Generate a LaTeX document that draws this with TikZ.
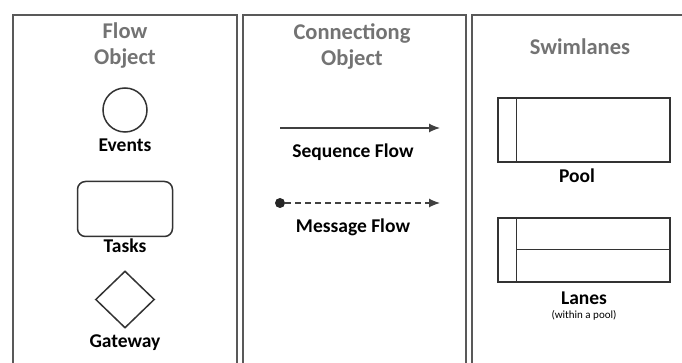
\documentclass[tikz,border=0pt]{standalone}
\usepackage{fontspec}
\setmainfont{Carlito}
\usetikzlibrary{positioning}
\usetikzlibrary{shapes.geometric,arrows.meta}

\begin{document}
\begin{tikzpicture}[x=1pt,y=-1pt,
headnode/.style={text=black!55, font=\fontsize{22.5}{26}\selectfont\bfseries, align=center},
labelnode/.style={anchor=base, font=\fontsize{19.5}{21}\selectfont\bfseries, inner sep=0pt},
smallnode/.style={anchor=base, font=\fontsize{11}{12}\selectfont, inner sep=0pt},
eventnode/.style={circle, draw=black!80, line width=1.5pt, minimum size=44pt},
tasknode/.style={rectangle, rounded corners=8pt, draw=black!80, line width=1.5pt, minimum width=95pt, minimum height=55pt},
gatenode/.style={diamond, draw=black!80, line width=1.5pt, minimum width=59pt, minimum height=57pt, inner sep=0pt},
poolnode/.style={rectangle, draw=black!80, line width=1.5pt, minimum width=172pt, minimum height=64pt},
dotnode/.style={circle, fill=black!85, inner sep=0pt, minimum size=10pt},
flowline/.style={black!75, line width=1.2pt, -{Latex[length=11pt,width=9pt]}},
panel/.style={draw=black!65, line width=2pt},
]
\useasboundingbox (0,0) rectangle (682,363);

%Panels
\draw[panel] (13,363) -- (13,15) -- (237,15) -- (237,363);
\draw[panel] (243,363) -- (243,15) -- (466,15) -- (466,363);
\draw[panel] (472,363) -- (472,15) -- (682,15);

%Headers
\node[headnode] (flowhead)  at (125,46) {Flow\\Object};
\node[headnode] (connhead)  at (352,46) {Connectiong\\Object};
\node[headnode] (swimhead)  at (580,47) {Swimlanes};

%Flow objects
\node[eventnode]   (event)    at (125,110)          {};
\node[tasknode]    (task)     [below=48pt of event] {};
\node[gatenode]    (gateway)  [below=33pt of task]  {};

%Connecting objects
\coordinate (seqa) at (280,128);
\coordinate (seqb) at (440,128);
\draw[flowline] (seqa) -- (seqb);
\node[dotnode] (msga) at (280,203) {};
\coordinate (msgb) at (440,203);
\draw[flowline, dash pattern=on 6pt off 4pt] (msga) -- (msgb);

%Swimlanes
\node[poolnode] (pool)  at (584,130) {};
\draw[black!80, line width=1.5pt] ([xshift=19pt]pool.north west) -- ([xshift=19pt]pool.south west);
\node[poolnode] (lanes) at (584,250) {};
\draw[black!80, line width=1.5pt] ([xshift=19pt]lanes.north west) -- ([xshift=19pt]lanes.south west);
\draw[black!80, line width=1pt] ([xshift=19pt]lanes.west) -- (lanes.east);

%Text
\node[labelnode] at (125,152) {Events};
\node[labelnode] at (125,253) {Tasks};
\node[labelnode] at (125,347) {Gateway};
\node[labelnode] at (353,158) {Sequence Flow};
\node[labelnode] at (353,233) {Message Flow};
\node[labelnode] at (577,183) {Pool};
\node[labelnode] at (584,304) {Lanes};
\node[smallnode] at (584,318) {(within a pool)};
\end{tikzpicture}
\end{document}
